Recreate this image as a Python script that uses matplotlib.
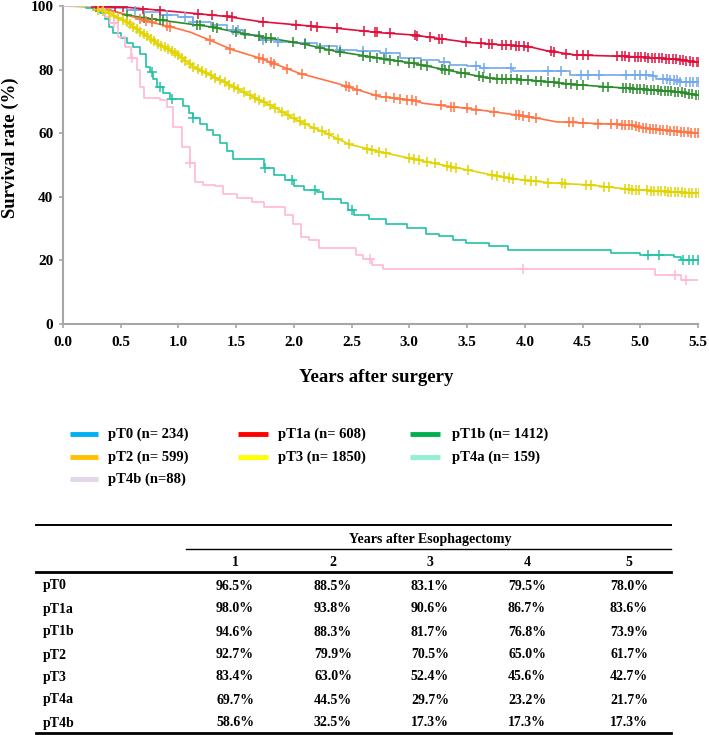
import numpy as np
import matplotlib
matplotlib.use("Agg")
import matplotlib.pyplot as plt
from matplotlib.lines import Line2D

plt.rcParams['font.family'] = ['Liberation Serif', 'DejaVu Serif']
plt.rcParams['font.weight'] = 'bold'

W, H = 709, 735

# Kaplan-Meier knots (years, survival %)
t_pt0 = [0, 0.25, 0.4, 0.55, 0.7, 0.84, 1.0, 1.13, 1.28, 1.42, 1.56, 1.706, 1.85, 1.99, 2.2, 2.37, 2.55, 2.745,
         2.92, 3.1, 3.26, 3.35, 3.5, 3.61, 3.9, 4.39, 5.11, 5.14, 5.25, 5.34, 5.5]
s_pt0 = [100, 99.8, 99.3, 98.8, 98, 97.2, 96.5, 95.1, 94, 92.5, 91, 89.3, 88.8, 88.3, 87.4, 86.2, 85.8, 85.3,
         83.6, 83.1, 82.5, 81.5, 81, 80.4, 79.7, 78.3, 78, 77, 76.6, 76.0, 76.0]
c_pt0 = [0.62, 0.9, 1.06, 1.13, 1.47, 1.52, 1.73, 1.86, 2.1, 2.4, 2.6, 2.8, 3.3, 3.58, 3.65, 3.88, 4.2, 4.31,
         4.49, 4.55, 4.64, 4.88, 4.95, 5.0, 5.05, 5.11, 5.2, 5.23, 5.26, 5.29, 5.32, 5.34, 5.4, 5.43, 5.46, 5.49, 5.51]

t_pt1a = [0, 0.2, 0.55, 0.98, 1.42, 1.706, 2.05, 2.37, 2.745, 3.03, 3.52, 4.04, 4.18, 4.44, 4.91, 5.33, 5.5]
s_pt1a = [100, 99.9, 99.6, 98.2, 96.7, 95.1, 94, 93, 91.6, 90.9, 88.5, 87.2, 86, 84.6, 84.1, 83.2, 82.3]
c_pt1a = [0.29, 0.4, 0.45, 0.52, 0.69, 0.84, 1.17, 1.29, 1.42, 1.46, 1.73, 2.02, 2.15, 2.2, 2.37, 2.61, 2.7,
          2.72, 2.83, 3.05, 3.07, 3.18, 3.26, 3.28, 3.49, 3.62, 3.69, 3.72, 3.8, 3.84, 3.88, 3.92, 3.95, 3.99,
          4.03, 4.23, 4.25, 4.36, 4.45, 4.5, 4.55, 4.8, 4.84, 4.87, 4.9, 4.95, 4.98, 5.01, 5.04, 5.07, 5.1,
          5.13, 5.16, 5.19, 5.22, 5.25, 5.28, 5.31, 5.34, 5.37, 5.4, 5.43, 5.46, 5.49, 5.51]

t_pt1b = [0, 0.15, 0.26, 0.4, 0.55, 0.7, 0.84, 1.0, 1.27, 1.5, 1.706, 2.05, 2.37, 2.745, 3.03, 3.32, 3.69,
          4.04, 4.47, 4.91, 5.33, 5.5]
s_pt1b = [100, 100, 99.8, 98.8, 97.2, 96.3, 95.6, 94.8, 93.5, 91.8, 90.4, 88.3, 85.7, 83.6, 82, 79.9, 77.3,
          76.7, 75.2, 74.1, 73, 72]
c_pt1b = [0.55, 0.7, 0.77, 0.84, 0.87, 1.16, 1.19, 1.3, 1.33, 1.5, 1.58, 1.7, 1.76, 1.8, 1.99, 2.1, 2.23,
          2.3, 2.4, 2.6, 2.66, 2.72, 2.78, 2.83, 2.9, 3.0, 3.04, 3.1, 3.15, 3.28, 3.31, 3.34, 3.45, 3.48, 3.6,
          3.64, 3.7, 3.76, 3.8, 3.84, 3.88, 3.93, 3.97, 4.03, 4.1, 4.14, 4.2, 4.25, 4.3, 4.36, 4.4, 4.45, 4.5,
          4.68, 4.72, 4.85, 4.88, 4.91, 4.94, 4.97, 5.0, 5.03, 5.06, 5.09, 5.12, 5.15, 5.18, 5.21, 5.24, 5.27,
          5.3, 5.33, 5.36, 5.39, 5.42, 5.45, 5.48, 5.51]

t_pt2 = [0, 0.2, 0.35, 0.55, 0.75, 0.98, 1.1, 1.27, 1.47, 1.706, 2.05, 2.37, 2.745, 3.03, 3.12, 3.61, 4.04,
         4.27, 4.91, 5.05, 5.3, 5.5]
s_pt2 = [100, 99.9, 99.3, 97.2, 95, 93, 91.8, 89.3, 86.2, 83.6, 78.8, 75.7, 71.5, 70.4, 69.4, 67.3, 65.2,
         63.6, 62.6, 61.5, 60.6, 60.0]
c_pt2 = [0.67, 0.72, 0.77, 0.9, 0.93, 1.27, 1.45, 1.7, 1.73, 1.8, 1.83, 1.94, 2.07, 2.45, 2.48, 2.55, 2.71,
         2.8, 2.87, 2.92, 2.98, 3.02, 3.06, 3.27, 3.36, 3.39, 3.5, 3.58, 3.73, 3.92, 3.95, 3.98, 4.04, 4.1,
         4.38, 4.42, 4.5, 4.63, 4.75, 4.8, 4.84, 4.87, 4.9, 4.93, 4.96, 4.99, 5.02, 5.05, 5.08, 5.11, 5.14,
         5.17, 5.2, 5.23, 5.26, 5.29, 5.32, 5.35, 5.38, 5.41, 5.44, 5.47, 5.5]

t_pt3 = [0, 0.15, 0.26, 0.4, 0.55, 0.69, 0.84, 0.98, 1.13, 1.28, 1.42, 1.56, 1.706, 1.85, 1.99, 2.14, 2.28,
         2.48, 2.8, 3.15, 3.51, 3.86, 4.22, 4.57, 4.92, 5.2, 5.5]
s_pt3 = [100, 99.8, 99.3, 97.7, 95.1, 91.4, 87.7, 85.1, 80.9, 78.2, 75.7, 73, 70.4, 67.8, 64.8, 62.2, 60,
         56.5, 53.7, 51, 48.4, 45.8, 44.4, 43.7, 42.3, 41.7, 41.1]
c_pt3 = [0.3, 0.35, 0.4, 0.44, 0.48, 0.52, 0.55, 0.58, 0.61, 0.64, 0.67, 0.7, 0.73, 0.76, 0.79, 0.82, 0.85,
         0.88, 0.91, 0.94, 0.97, 1.0, 1.03, 1.06, 1.1, 1.13, 1.17, 1.2, 1.24, 1.28, 1.32, 1.36, 1.4, 1.44,
         1.48, 1.52, 1.57, 1.62, 1.66, 1.7, 1.74, 1.79, 1.84, 1.9, 1.95, 2.0, 2.05, 2.1, 2.17, 2.24, 2.3, 2.38,
         2.48, 2.63, 2.68, 2.74, 2.8, 3.0, 3.04, 3.08, 3.15, 3.22, 3.33, 3.36, 3.4, 3.51, 3.72, 3.76, 3.82,
         3.86, 3.9, 4.0, 4.05, 4.1, 4.2, 4.32, 4.35, 4.53, 4.57, 4.69, 4.73, 4.87, 4.9, 4.93, 4.96, 4.99, 5.06,
         5.09, 5.12, 5.15, 5.18, 5.21, 5.24, 5.27, 5.3, 5.33, 5.36, 5.39, 5.42, 5.45, 5.48, 5.51]

t_pt4a = [0, 0.2, 0.26, 0.32, 0.364, 0.4, 0.436, 0.5, 0.55, 0.61, 0.667, 0.72, 0.753, 0.78, 0.811, 0.87, 0.926,
          1.04, 1.09, 1.128, 1.19, 1.244, 1.3, 1.359, 1.42, 1.475, 1.635, 1.74, 1.83, 1.92, 2.0, 2.09, 2.2, 2.25,
          2.41, 2.47, 2.52, 2.65, 2.8, 2.98, 3.14, 3.26, 3.38, 3.49, 3.69, 3.85, 4.75, 5.0, 5.29, 5.35, 5.5]
s_pt4a = [100, 99.4, 98.6, 97.7, 96, 93.5, 91.4, 89.9, 88.3, 87.2, 85, 80.9, 79.4, 77, 74.6, 72.6, 70.8,
          68.4, 66.5, 64.7, 62.8, 61, 59.5, 56.8, 54.5, 51.8, 51.8, 49, 47, 45.3, 43.5, 42.1, 41.6, 39.2,
          37.9, 36, 34.3, 33, 31.6, 30.1, 28.3, 27.7, 26.5, 25.6, 24.5, 23.3, 22.4, 21.7, 21, 20.2, 20.2]
c_pt4a = [0.77, 0.84, 0.94, 1.13, 1.75, 1.98, 2.18, 2.5, 5.07, 5.16, 5.37, 5.42, 5.46, 5.5]

t_pt4b = [0, 0.3, 0.36, 0.41, 0.48, 0.54, 0.59, 0.64, 0.67, 0.7, 0.84, 0.9, 0.955, 1.03, 1.1, 1.14, 1.21,
          1.32, 1.39, 1.51, 1.64, 1.74, 1.92, 1.99, 2.06, 2.13, 2.22, 2.54, 2.6, 2.68, 2.77, 5.13, 5.35, 5.5]
s_pt4b = [100, 99, 96.5, 94.6, 90.4, 87.2, 83.6, 79.9, 74.6, 71, 70.4, 68.3, 62, 55.8, 50.5, 44.8, 43.7,
          43.4, 40.9, 39.5, 38.5, 36.9, 34.3, 31.6, 27.5, 26.4, 23.8, 21.7, 20.5, 18.5, 17.3, 15.4, 13.8, 13.8]
c_pt4b = [0.44, 0.6, 1.1, 2.66, 3.98, 5.3, 5.4]

groups = ['pT0', 'pT1a', 'pT1b', 'pT2', 'pT3', 'pT4a', 'pT4b']
curve_colors = ['#73a9ec', '#e0103c', '#2b8c2b', '#ff7444', '#e2d400', '#22c2a6', '#ffb9d6']
stepped = [True, False, False, False, False, True, True]
curves = [(t_pt0, s_pt0, c_pt0), (t_pt1a, s_pt1a, c_pt1a), (t_pt1b, s_pt1b, c_pt1b), (t_pt2, s_pt2, c_pt2),
          (t_pt3, s_pt3, c_pt3), (t_pt4a, s_pt4a, c_pt4a), (t_pt4b, s_pt4b, c_pt4b)]

legend_labels = ['pT0 (n= 234)', 'pT1a (n= 608)', 'pT1b (n= 1412)', 'pT2 (n= 599)',
                 'pT3 (n= 1850)', 'pT4a (n= 159)', 'pT4b (n=88)']
legend_colors = ['#00b0f0', '#ff0000', '#00b050', '#ffc000', '#ffff00', '#92f0d4', '#e2d6ea']

table_header = 'Years after Esophagectomy'
table_years = ['1', '2', '3', '4', '5']
table_rows = {
    'pT0': ['96.5%', '88.5%', '83.1%', '79.5%', '78.0%'],
    'pT1a': ['98.0%', '93.8%', '90.6%', '86.7%', '83.6%'],
    'pT1b': ['94.6%', '88.3%', '81.7%', '76.8%', '73.9%'],
    'pT2': ['92.7%', '79.9%', '70.5%', '65.0%', '61.7%'],
    'pT3': ['83.4%', '63.0%', '52.4%', '45.6%', '42.7%'],
    'pT4a': ['69.7%', '44.5%', '29.7%', '23.2%', '21.7%'],
    'pT4b': ['58.6%', '32.5%', '17.3%', '17.3%', '17.3%'],
}

fig = plt.figure(figsize=(W / 100, H / 100), dpi=100)


def fx(px):
    return px / W


def fy(py):
    return 1 - py / H


ax = fig.add_axes([fx(63), fy(324), fx(698) - fx(63), fy(6) - fy(324)])

for (t, s, c), col, st in zip(curves, curve_colors, stepped):
    t = np.array(t)
    s = np.array(s)
    c = np.array(c)
    if st:
        ax.plot(t, s, color=col, lw=1.2, drawstyle='steps-post', zorder=3)
        cy = s[np.searchsorted(t, c, side='right') - 1]
    else:
        ax.plot(t, s, color=col, lw=1.2, zorder=3)
        cy = np.interp(c, t, s)
    ax.plot(c, cy, ls='none', marker='+', ms=7, mew=1.1, color=col, zorder=4)

ax.set_xlim(0, 5.5)
ax.set_ylim(0, 100)
ax.set_xticks(np.arange(0, 5.51, 0.5))
ax.set_xticklabels(['%.1f' % v for v in np.arange(0, 5.51, 0.5)])
ax.set_yticks([0, 20, 40, 60, 80, 100])
for side in ['top', 'right']:
    ax.spines[side].set_visible(False)
for side in ['left', 'bottom']:
    ax.spines[side].set_color('#a6a6a6')
    ax.spines[side].set_linewidth(1.5)
ax.tick_params(axis='both', colors='#a6a6a6', length=3, width=1.2, labelcolor='black', labelsize=11)
ax.tick_params(axis='x', pad=6)
ax.tick_params(axis='y', pad=4)
for lab in ax.get_xticklabels() + ax.get_yticklabels():
    lab.set_fontweight('bold')

fig.text(fx(376), fy(377), 'Years after surgery', ha='center', va='center', fontsize=13.5, fontweight='bold')
fig.text(fx(10), fy(148), 'Survival rate (%)', ha='center', va='center', rotation=90, fontsize=13.5,
         fontweight='bold')

# legend laid out by hand in three columns
col_x = [(70, 98, 108), (238, 268, 278), (410, 440, 452)]
row_y = [434, 457, 479]
for i, (lab, col) in enumerate(zip(legend_labels, legend_colors)):
    x0, x1, xt = col_x[i % 3]
    y = row_y[i // 3]
    fig.add_artist(Line2D([fx(x0), fx(x1)], [fy(y), fy(y)], color=col, lw=3.5, solid_capstyle='butt'))
    fig.text(fx(xt), fy(y), lab, ha='left', va='center', fontsize=10.5, fontweight='bold')

# survival table
tx0, tx1 = 36, 671
fig.add_artist(Line2D([fx(tx0), fx(tx1)], [fy(525), fy(525)], color='black', lw=1.4))
fig.add_artist(Line2D([fx(186), fx(tx1)], [fy(549), fy(549)], color='black', lw=1.0))
fig.add_artist(Line2D([fx(tx0), fx(tx1)], [fy(572), fy(572)], color='black', lw=2.0))
fig.add_artist(Line2D([fx(tx0), fx(tx1)], [fy(733), fy(733)], color='black', lw=2.0))

col_cx = [235, 333, 430, 527, 629]
fig.text(fx(430), fy(539), table_header, ha='center', va='center', fontsize=10, fontweight='bold')
for cx, yr in zip(col_cx, table_years):
    fig.text(fx(cx), fy(562), yr, ha='center', va='center', fontsize=10, fontweight='bold')

row_py = [586, 609, 632, 655, 677, 700, 723]
for py, g in zip(row_py, groups):
    fig.text(fx(43), fy(py), g, ha='left', va='center', fontsize=10, fontweight='bold')
    for cx, v in zip(col_cx, table_rows[g]):
        fig.text(fx(cx), fy(py), v, ha='center', va='center', fontsize=10, fontweight='bold')

fig.savefig('out.png', dpi=100)
